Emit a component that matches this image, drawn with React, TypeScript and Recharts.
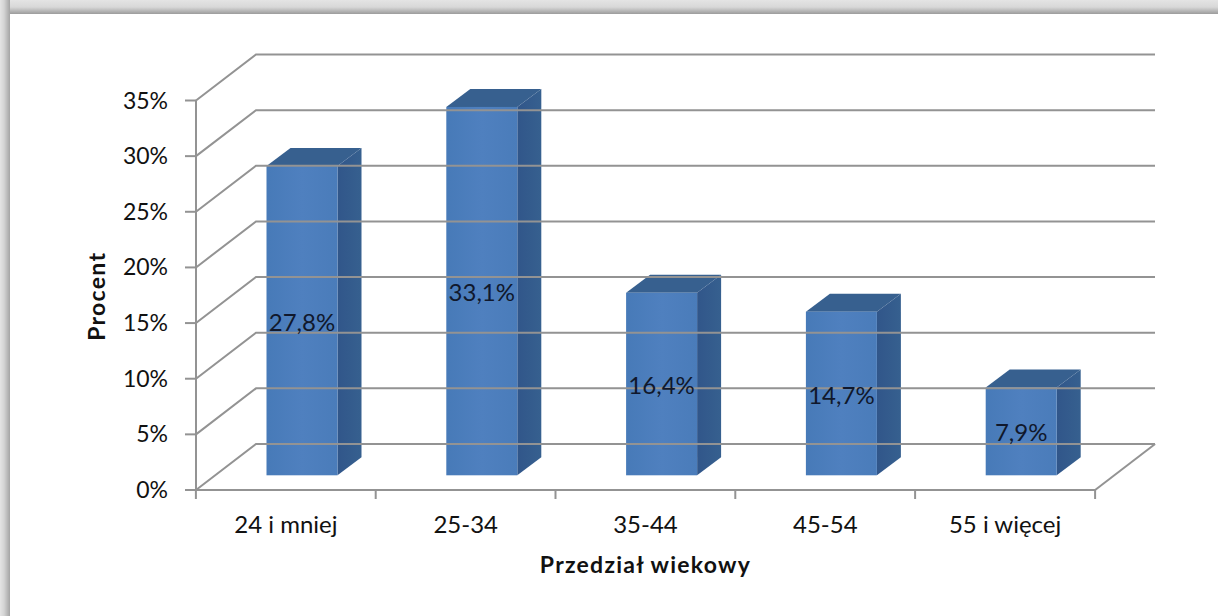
import React from 'react';
import { BarChart, Bar, XAxis, YAxis, LabelList } from 'recharts';

const categories = ['24 i mniej', '25-34', '35-44', '45-54', '55 i więcej'];
const percents = [27.8, 33.1, 16.4, 14.7, 7.9];
const yTicks = [0, 5, 10, 15, 20, 25, 30, 35];

const chartData = categories.map((name, i) => ({ name, value: percents[i] }));

const FONT = 'Lato, sans-serif';
const GRID = '#939393';
const WALL_DX = 60;
const WALL_DY = -46;
const PLOT_W = 899;
const BAR_SHIFT_X = 16.5;
const BAR_SHIFT_Y = -14.7;
const DEPTH_X = 24;
const DEPTH_Y = -18;

// y axis tick: label, tick mark, side wall diagonal and back wall line
const WallTick = (props: any) => {
  const { y, payload } = props;
  const x0 = 196;
  const bx = x0 + WALL_DX;
  const by = y + WALL_DY;
  return (
    <g>
      <line x1={x0 - 11} y1={y} x2={x0} y2={y} stroke={GRID} strokeWidth={2} />
      <polyline
        points={`${x0},${y} ${bx},${by} ${bx + PLOT_W},${by}`}
        fill="none"
        stroke={GRID}
        strokeWidth={2}
      />
      <text x={168} y={y + 8} textAnchor="end" fontFamily={FONT} fontSize={23} fill="#111">
        {payload.value}%
      </text>
    </g>
  );
};

const CategoryTick = (props: any) => {
  const { x, y, payload, index } = props;
  const last = index === categories.length - 1;
  return (
    <g>
      <line x1={x - 90} y1={y} x2={x - 90} y2={y + 9} stroke={GRID} strokeWidth={2} />
      {last && (
        <>
          <line x1={x + 90} y1={y} x2={x + 90} y2={y + 9} stroke={GRID} strokeWidth={2} />
          <line x1={x + 90} y1={y} x2={x + 90 + WALL_DX} y2={y + WALL_DY} stroke={GRID} strokeWidth={2} />
        </>
      )}
      <text x={x} y={y + 43} textAnchor="middle" fontFamily={FONT} fontSize={24} fill="#111">
        {payload.value}
      </text>
    </g>
  );
};

const Bar3D = (props: any) => {
  const { x, y, width, height } = props;
  const l = x + BAR_SHIFT_X;
  const r = l + width;
  const t = y + BAR_SHIFT_Y;
  const b = t + height;
  return (
    <g>
      <polygon
        points={`${l},${t} ${l + DEPTH_X},${t + DEPTH_Y} ${r + DEPTH_X},${t + DEPTH_Y} ${r},${t}`}
        fill="#37608f"
      />
      <polygon
        points={`${r},${t} ${r + DEPTH_X},${t + DEPTH_Y} ${r + DEPTH_X},${b + DEPTH_Y} ${r},${b}`}
        fill="url(#sideFill)"
      />
      <rect x={l} y={t} width={width} height={height} fill="url(#frontFill)" />
    </g>
  );
};

const BarValue = (props: any) => {
  const { x, y, width, height, value } = props;
  return (
    <text
      x={x + BAR_SHIFT_X + width / 2}
      y={y + BAR_SHIFT_Y + height / 2 + 10}
      textAnchor="middle"
      fontFamily={FONT}
      fontSize={24}
      fill="#10182c"
    >
      {String(value).replace('.', ',')}%
    </text>
  );
};

export default function App() {
  return (
    <div style={{ position: 'fixed', left: 0, top: 0, width: 1218, height: 616, background: '#fff', overflow: 'hidden' }}>
      <div style={{ position: 'absolute', left: 0, top: 0, width: 1218, height: 14, background: 'linear-gradient(to bottom, #e4e4e4, #d8d8d8 50%, #9c9c9c)' }} />
      <div style={{ position: 'absolute', left: 0, top: 0, width: 10, height: 616, background: 'linear-gradient(to right, #e4e4e4, #d4d4d4 40%, #a4a4a4)' }} />
      <div style={{ position: 'absolute', left: 0, top: 0 }}>
        <BarChart
          width={1218}
          height={616}
          data={chartData}
          margin={{ top: 100.5, right: 123, bottom: 40, left: 136 }}
          barSize={71}
        >
          <defs>
            <linearGradient id="frontFill" x1="0" y1="0" x2="1" y2="0">
              <stop offset="0" stopColor="#477ab8" />
              <stop offset="0.5" stopColor="#4f80bf" />
              <stop offset="1" stopColor="#4a7cba" />
            </linearGradient>
            <linearGradient id="sideFill" x1="0" y1="0" x2="1" y2="0">
              <stop offset="0" stopColor="#31568a" />
              <stop offset="1" stopColor="#36608f" />
            </linearGradient>
          </defs>
          <YAxis
            type="number"
            domain={[0, 35]}
            ticks={yTicks}
            interval={0}
            width={60}
            axisLine={{ stroke: GRID, strokeWidth: 2 }}
            tickLine={false}
            tick={<WallTick />}
            label={{
              value: 'Procent',
              angle: -90,
              position: 'insideLeft',
              dx: -44,
              dy: 1,
              style: { fontFamily: FONT, fontSize: 23, fontWeight: 700, fill: '#111', textAnchor: 'middle', letterSpacing: 1.3 },
            }}
          />
          <XAxis
            dataKey="name"
            interval={0}
            height={86}
            tickSize={0}
            tickMargin={0}
            axisLine={{ stroke: GRID, strokeWidth: 2 }}
            tickLine={false}
            tick={<CategoryTick />}
            label={{
              value: 'Przedział wiekowy',
              position: 'insideBottom',
              dy: 2,
              style: { fontFamily: FONT, fontSize: 23, fontWeight: 700, fill: '#111', letterSpacing: 1.25 },
            }}
          />
          <Bar dataKey="value" shape={<Bar3D />} isAnimationActive={false}>
            <LabelList dataKey="value" content={<BarValue />} />
          </Bar>
        </BarChart>
      </div>
    </div>
  );
}
